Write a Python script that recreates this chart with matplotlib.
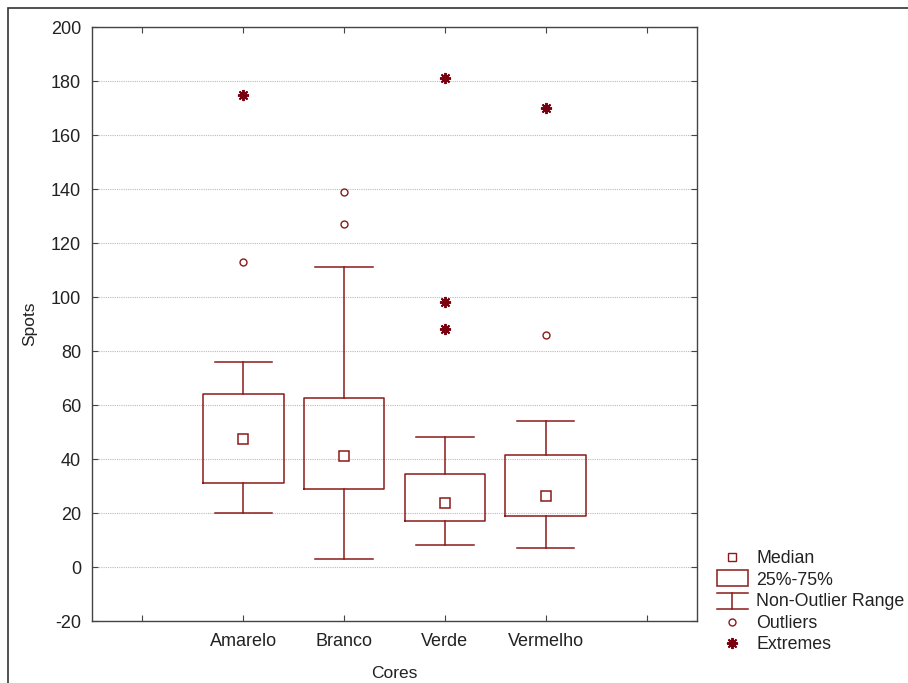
import matplotlib
matplotlib.use("Agg")
import matplotlib.pyplot as plt
from matplotlib.lines import Line2D
from matplotlib.patches import Rectangle
from matplotlib.legend_handler import HandlerBase

plt.rcParams['font.family'] = ['Liberation Sans', 'DejaVu Sans']
plt.rcParams['axes.unicode_minus'] = False

# data
cores = ["Amarelo", "Branco", "Verde", "Vermelho"]
medianas = [47.5, 41, 23.6, 26.3]
q1 = [31, 29, 17, 19]
q3 = [64, 62.7, 34.5, 41.3]
whis_lo = [20, 3, 8, 7]
whis_hi = [76, 111, 48, 54]
outliers = [[113], [139, 127], [], [86]]
extremes = [[175], [], [181, 98, 88], [170]]

cor = "#8b1a1a"
cor_ext = "#7a0010"
asterisco = (8, 2, 0)

fig = plt.figure(figsize=(9.08, 6.83), dpi=100)
ax = fig.add_axes([92 / 908, 1 - 621 / 683, (697 - 92) / 908, (621 - 27) / 683])

stats = []
for i, c in enumerate(cores):
    stats.append(dict(label=c, med=medianas[i], q1=q1[i], q3=q3[i],
                      whislo=whis_lo[i], whishi=whis_hi[i], fliers=[]))

pos = list(range(1, len(cores) + 1))
ax.bxp(stats, positions=pos, widths=0.8, capwidths=0.57, showfliers=False,
       boxprops=dict(color=cor, linewidth=1.1),
       whiskerprops=dict(color=cor, linewidth=1.1),
       capprops=dict(color=cor, linewidth=1.1),
       medianprops=dict(linewidth=0))

ax.plot(pos, medianas, linestyle='none', marker='s', markersize=7,
        markerfacecolor='white', markeredgecolor=cor, markeredgewidth=1.1, zorder=5)

for i, p in enumerate(pos):
    if outliers[i]:
        ax.plot([p] * len(outliers[i]), outliers[i], linestyle='none', marker='o',
                markersize=5, markerfacecolor='white', markeredgecolor=cor,
                markeredgewidth=1.0)
    if extremes[i]:
        ax.plot([p] * len(extremes[i]), extremes[i], linestyle='none', marker=asterisco,
                markersize=8, color=cor_ext, markeredgewidth=1.4)

ax.set_xlim(-0.5, 5.5)
ax.set_ylim(-20, 200)
ax.set_xticks(range(0, 6))
ax.set_xticklabels([""] + cores + [""])
ax.set_yticks(range(-20, 201, 20))
ax.tick_params(direction='in', top=True, right=True, length=4, labelsize=13,
               color='#444444', labelcolor='#222222')
ax.tick_params(axis='x', pad=9)
ax.tick_params(axis='y', pad=8)
ax.yaxis.grid(True, linestyle=(0, (1, 1)), color='#bbbbbb', linewidth=0.8)
ax.set_axisbelow(True)
for s in ax.spines.values():
    s.set_color('#444444')
    s.set_linewidth(1.0)

ax.set_xlabel("Cores", fontsize=12.5, color='#222222', labelpad=11)
ax.set_ylabel("Spots", fontsize=12.5, color='#222222', labelpad=10)


class WhiskerHandler(HandlerBase):
    def create_artists(self, legend, orig, xd, yd, w, h, fontsize, trans):
        x0, x1 = xd + 0.02 * w, xd + 0.98 * w
        xm = (x0 + x1) / 2
        top = yd + h * 1.05
        bot = yd - h * 0.25
        arts = [Line2D([x0, x1], [top, top], color=cor, lw=1.1),
                Line2D([xm, xm], [top, bot], color=cor, lw=1.1),
                Line2D([x0, x1], [bot, bot], color=cor, lw=1.1)]
        for a in arts:
            a.set_transform(trans)
        return arts


class BoxHandler(HandlerBase):
    def create_artists(self, legend, orig, xd, yd, w, h, fontsize, trans):
        r = Rectangle((xd + 0.02 * w, yd - h * 0.1), 0.96 * w, h * 1.3,
                      facecolor='white', edgecolor=cor, linewidth=1.1)
        r.set_transform(trans)
        return [r]


h_med = Line2D([], [], linestyle='none', marker='s', markersize=6,
               markerfacecolor='white', markeredgecolor=cor)
h_box = Rectangle((0, 0), 1, 1)
h_wh = Line2D([], [], color=cor)
h_out = Line2D([], [], linestyle='none', marker='o', markersize=5,
               markerfacecolor='white', markeredgecolor=cor)
h_ext = Line2D([], [], linestyle='none', marker=asterisco, markersize=8,
               color=cor_ext, markeredgewidth=1.4)

fig.legend([h_med, h_box, h_wh, h_out, h_ext],
           ["Median", "25%-75%", "Non-Outlier Range", "Outliers", "Extremes"],
           handler_map={h_wh: WhiskerHandler(), h_box: BoxHandler()},
           loc='upper left', bbox_to_anchor=(704 / 908, 1 - 538 / 683),
           frameon=False, fontsize=12.8, handlelength=1.8, handletextpad=0.45,
           labelspacing=0.25, borderpad=0.2, labelcolor='#222222')

# outer frame
fig.patches.append(Rectangle((8 / 908, -0.05), 1.0, 1 - 8 / 683 + 0.05,
                             transform=fig.transFigure, fill=False,
                             edgecolor='#333333', linewidth=1.2))

fig.savefig("out.png", dpi=100)
